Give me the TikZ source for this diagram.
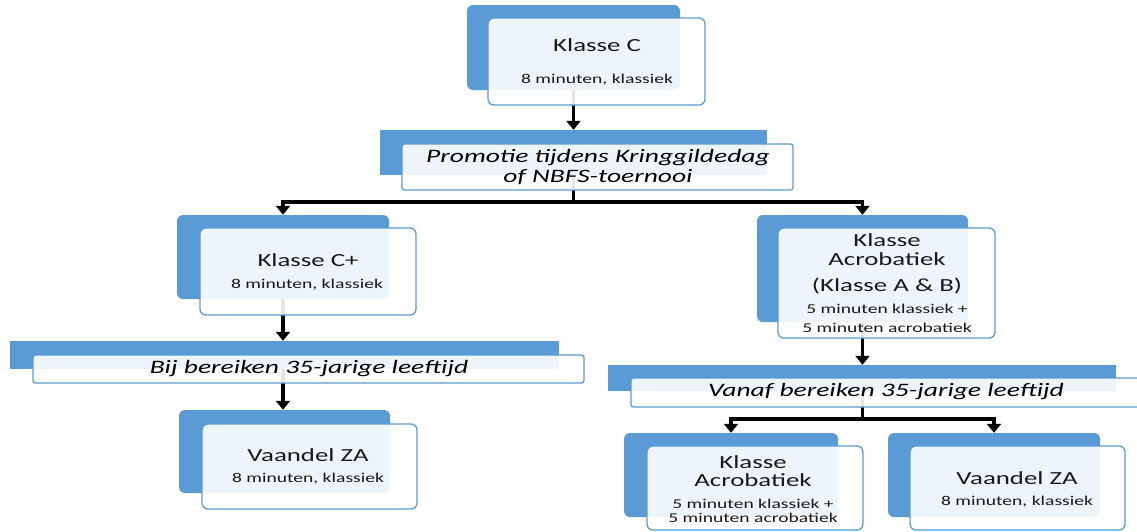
\documentclass[tikz,border=0pt]{standalone}
\usepackage{fontspec}
\usetikzlibrary{arrows.meta}
\newfontfamily\boxf{Carlito}[FakeStretch=1.45]
\definecolor{accent}{HTML}{5B9BD5}
\tikzset{
  backbox/.style={fill=accent, draw=none, rounded corners=6pt, inner sep=0pt},
  frontbox/.style={fill=white, fill opacity=0.9, draw=accent, line width=1.3pt, rounded corners=6pt, inner sep=0pt},
  barback/.style={fill=accent, draw=none, inner sep=0pt},
  barfront/.style={fill=white, fill opacity=0.9, draw=accent, line width=1.3pt, rounded corners=2.5pt, inner sep=0pt},
  conn/.style={line width=3.5pt, draw=black},
  arr/.style={conn, -{Triangle[width=14pt,length=9pt]}},
  ttl/.style={font=\boxf\fontsize{18.5}{19}\selectfont, align=center, inner sep=0pt, text=black!90},
  sub/.style={font=\boxf\fontsize{13.5}{14}\selectfont, align=center, inner sep=0pt, text=black!90},
  bartxt/.style={font=\boxf\itshape\fontsize{19}{20}\selectfont, align=center, inner sep=0pt, text=black},
}
\begin{document}
\begin{tikzpicture}[x=1pt,y=-1pt]
\useasboundingbox (0,0) rectangle (1137,531);
\clip (0,0) rectangle (1137,531);
% back boxes
\node[backbox, minimum width=213pt, minimum height=85pt] (bC) at (573.5,47.5) {};
\node[barback, minimum width=387pt, minimum height=45pt] (bP) at (573.5,152.5) {};
\node[backbox, minimum width=212pt, minimum height=84pt] (bCp) at (283,257) {};
\node[backbox, minimum width=211pt, minimum height=107pt] (bKA) at (862.5,268.5) {};
\node[barback, minimum width=549pt, minimum height=28pt] (bB) at (284.5,355) {};
\node[barback, minimum width=508pt, minimum height=26pt] (bVa) at (862,378) {};
\node[backbox, minimum width=211pt, minimum height=83pt] (bV1) at (284.5,451.5) {};
\node[backbox, minimum width=214pt, minimum height=84pt] (bKA2) at (731,475) {};
\node[backbox, minimum width=212pt, minimum height=84pt] (bV2) at (994,475) {};
% connectors
\coordinate (s1) at (573.5,202);
\coordinate (s2) at (862.5,419);
\draw[arr] (bC.south) -- (bP.north);
\draw[conn] (bP.south) -- (s1);
\draw[arr] (s1) -| (bCp.north);
\draw[arr] (s1) -| (bKA.north);
\draw[arr] (bCp.south) -- (bCp.south |- bB.north);
\draw[arr] (bCp.south |- bB.south) -- (bCp.south |- bV1.north);
\draw[arr] (bKA.south) -- (bKA.south |- bVa.north);
\draw[conn] (bKA.south |- bVa.south) -- (s2);
\draw[arr] (s2) -| (bKA2.north);
\draw[arr] (s2) -| (bV2.north);
% front boxes
\node[frontbox, minimum width=217pt, minimum height=87pt] (fC) at (596.5,61.5) {};
\node[barfront, minimum width=391pt, minimum height=46pt] (fP) at (597.5,167) {};
\node[frontbox, minimum width=216pt, minimum height=87pt] (fCp) at (308,271.5) {};
\node[frontbox, minimum width=217pt, minimum height=110pt] (fKA) at (886.5,283) {};
\node[barfront, minimum width=551pt, minimum height=28pt] (fB) at (308.5,369) {};
\node[barfront, minimum width=560pt, minimum height=29pt] (fVa) at (911,392.5) {};
\node[frontbox, minimum width=215pt, minimum height=85pt] (fV1) at (309.5,466.5) {};
\node[frontbox, minimum width=216pt, minimum height=84pt] (fKA2) at (755,488) {};
\node[frontbox, minimum width=215pt, minimum height=84pt] (fV2) at (1017.5,488) {};
% texts
\node[ttl] (tC) at (597,45) {Klasse C};
\node[sub] (sC) at (597,80) {8 minuten, klassiek};
\node[bartxt] (tP) at (598,167) {Promotie tijdens Kringgildedag\\of NBFS-toernooi};
\node[ttl] (tCp) at (308,260) {Klasse C+};
\node[sub] (sCp) at (307,285) {8 minuten, klassiek};
\node[ttl] (tKA) at (887,249.5) {Klasse\\Acrobatiek};
\node[ttl] (tKAb) at (887,286) {(Klasse A \& B)};
\node[sub, font=\boxf\fontsize{13.5}{19}\selectfont] (sKA) at (887,318.5) {5 minuten klassiek +\\5 minuten acrobatiek};
\node[bartxt] (tB) at (309,369) {Bij bereiken 35-jarige leeftijd};
\node[bartxt] (tVa) at (886,392) {Vanaf bereiken 35-jarige leeftijd};
\node[ttl] (tV1) at (308,455) {Vaandel ZA};
\node[sub] (sV1) at (308,479) {8 minuten, klassiek};
\node[ttl, font=\boxf\fontsize{18.5}{18}\selectfont] (tKA2) at (753,471) {Klasse\\Acrobatiek};
\node[sub, font=\boxf\fontsize{13.5}{14}\selectfont] (sKA2) at (753,511) {5 minuten klassiek +\\5 minuten acrobatiek};
\node[ttl] (tV2) at (1017,478) {Vaandel ZA};
\node[sub] (sV2) at (1017,502) {8 minuten, klassiek};
\end{tikzpicture}
\end{document}
